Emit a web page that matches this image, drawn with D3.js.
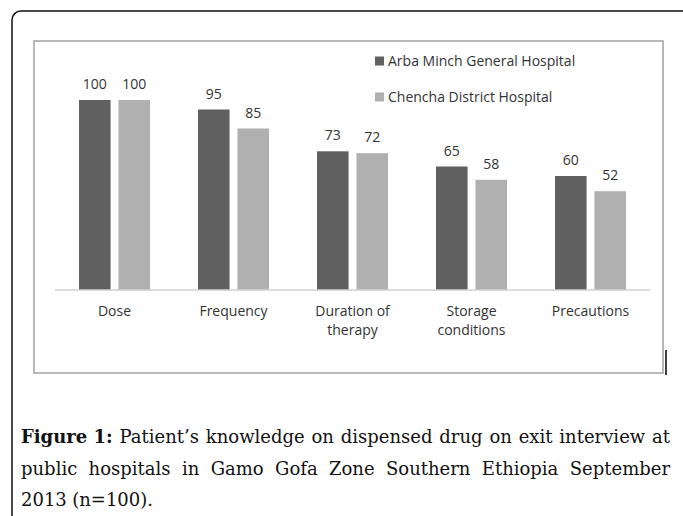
<!DOCTYPE html>
<html>
<head>
<meta charset="utf-8">
<style>
  body { margin: 0; background: #fff; }
  svg { display: block; }
</style>
</head>
<body>
<script src="https://cdnjs.cloudflare.com/ajax/libs/d3/7.8.5/d3.min.js"></script>
<svg id="chart" width="683" height="516"></svg>
<script>

  // data
  const categories = ['Dose', 'Frequency', 'Duration of\ntherapy', 'Storage\nconditions', 'Precautions'];
  const seriesNames = ['Arba Minch General Hospital', 'Chencha District Hospital'];
  const arbaMinch = [100, 95, 73, 65, 60];
  const chencha = [100, 85, 72, 58, 52];
  const colors = ['#606060', '#b0b0b0'];

  const captionBold = 'Figure 1:';
  const captionLines = [
    'Patient\u2019s knowledge on dispensed drug on exit interview at',
    'public hospitals in Gamo Gofa Zone Southern Ethiopia September',
    '2013 (n=100).'
  ];

  const rows = categories.map((c, i) => ({ cat: c, vals: [arbaMinch[i], chencha[i]] }));

  const svg = d3.select('#chart');

  // outer rounded frame (runs off the right and bottom of the page)
  svg.append('rect')
    .attr('x', 12).attr('y', 11)
    .attr('width', 720).attr('height', 600)
    .attr('rx', 9)
    .attr('fill', 'none')
    .attr('stroke', '#111')
    .attr('stroke-width', 1.5);

  // chart area border
  svg.append('rect')
    .attr('x', 34).attr('y', 41)
    .attr('width', 629).attr('height', 332)
    .attr('fill', '#fff')
    .attr('stroke', '#a6a6a6')
    .attr('stroke-width', 1.6);

  svg.append('line')
    .attr('x1', 666).attr('x2', 666)
    .attr('y1', 350).attr('y2', 375)
    .attr('stroke', '#111')
    .attr('stroke-width', 1.6);

  const x0 = d3.scaleBand()
    .domain(categories)
    .range([55, 650]);

  const x1 = d3.scaleBand()
    .domain(d3.range(seriesNames.length))
    .range([24, x0.bandwidth() - 24])
    .paddingInner(0.2);

  const y = d3.scaleLinear()
    .domain([0, 100])
    .range([290, 100]);

  const font = '"Open Sans", sans-serif';

  const groups = svg.append('g')
    .selectAll('g')
    .data(rows)
    .join('g')
    .attr('transform', d => `translate(${x0(d.cat)},0)`);

  groups.selectAll('rect')
    .data(d => d.vals)
    .join('rect')
    .attr('x', (v, i) => x1(i))
    .attr('y', v => y(v))
    .attr('width', x1.bandwidth())
    .attr('height', v => y(0) - y(v))
    .attr('fill', (v, i) => colors[i]);

  groups.selectAll('text')
    .data(d => d.vals)
    .join('text')
    .attr('x', (v, i) => x1(i) + x1.bandwidth() / 2)
    .attr('y', v => y(v) - 11)
    .attr('text-anchor', 'middle')
    .attr('font-family', font)
    .attr('font-size', 14)
    .attr('fill', '#333')
    .text(v => v);

  // baseline
  svg.append('line')
    .attr('x1', 55).attr('x2', 650)
    .attr('y1', y(0)).attr('y2', y(0))
    .attr('stroke', '#d0d0d0')
    .attr('stroke-width', 1.5);

  // category labels
  const catLabels = svg.append('g')
    .selectAll('text')
    .data(categories)
    .join('text')
    .attr('text-anchor', 'middle')
    .attr('font-family', font)
    .attr('font-size', 14)
    .attr('fill', '#333');

  catLabels.selectAll('tspan')
    .data(d => d.split('\n').map(t => ({ t, c: d })))
    .join('tspan')
    .attr('x', d => x0(d.c) + x0.bandwidth() / 2)
    .attr('y', (d, i) => 316 + i * 19)
    .text(d => d.t);

  // legend
  const legend = svg.append('g')
    .selectAll('g')
    .data(seriesNames)
    .join('g')
    .attr('transform', (d, i) => `translate(375,${61 + i * 36})`);

  legend.append('rect')
    .attr('x', 0).attr('y', -4.5)
    .attr('width', 9).attr('height', 9)
    .attr('fill', (d, i) => colors[i]);

  legend.append('text')
    .attr('x', 13).attr('y', 5)
    .attr('font-family', font)
    .attr('font-size', 14)
    .attr('fill', '#333')
    .text(d => d);

  // caption, justified over the first two lines
  const capLeft = 21, capRight = 670;
  const capFont = '"DejaVu Serif", serif';
  const capSize = 18;
  const capY = [443, 475, 506];

  captionLines.forEach((line, li) => {
    const words = line.split(' ');
    const tokens = li === 0 ? [{ w: captionBold, bold: true }] : [];
    words.forEach(w => tokens.push({ w, bold: false }));

    const t = svg.append('g');
    const nodes = tokens.map(tok => t.append('text')
      .attr('y', capY[li])
      .attr('font-family', capFont)
      .attr('font-size', capSize)
      .attr('font-weight', tok.bold ? 'bold' : 'normal')
      .attr('fill', '#111')
      .text(tok.w));

    const widths = nodes.map(n => n.node().getComputedTextLength());
    const total = d3.sum(widths);
    const justify = li < captionLines.length - 1;
    const gap = justify ? (capRight - capLeft - total) / (nodes.length - 1) : capSize * 0.3;
    let cx = capLeft;
    nodes.forEach((n, i) => {
      n.attr('x', cx);
      cx += widths[i] + gap;
    });
  });

</script>
</body>
</html>
